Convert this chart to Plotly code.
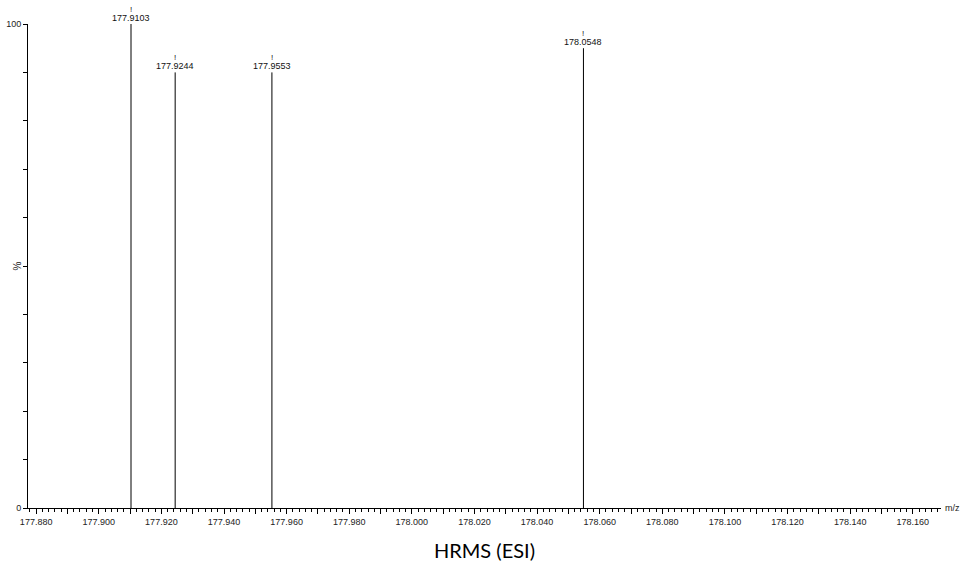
import plotly.graph_objects as go

mz = [177.9103, 177.9244, 177.9553, 178.0548]
intensity = [100, 90, 90, 95]
peak_labels = ["177.9103", "177.9244", "177.9553", "178.0548"]

x_major = [round(177.88 + 0.01 * i, 3) for i in range(30)]
x_text = [f"{v:.3f}" if i % 2 == 0 else "" for i, v in enumerate(x_major)]
y_ticks = list(range(0, 101, 10))
y_text = ["0"] + [""] * 9 + ["100"]

xs, ys = [], []
for m, h in zip(mz, intensity):
    xs += [m, m, None]
    ys += [0, h, None]

fig = go.Figure()
fig.add_trace(go.Scatter(x=xs, y=ys, mode="lines",
                         line=dict(color="black", width=1), hoverinfo="skip",
                         showlegend=False))

font = "Liberation Sans, Arial, sans-serif"
for m, h, lab in zip(mz, intensity, peak_labels):
    fig.add_annotation(x=m, y=h, text=lab, showarrow=False, yanchor="bottom",
                       yshift=-1, font=dict(family=font, size=9, color="#111"))
    fig.add_annotation(x=m, y=h, text="!", showarrow=False, yanchor="bottom",
                       yshift=8, font=dict(family=font, size=8, color="#111"))

fig.add_annotation(x=0, y=50, xref="paper", yref="y", text="%", showarrow=False,
                   textangle=-90, xanchor="right", xshift=-4,
                   font=dict(family=font, size=10, color="#222"))
fig.add_annotation(x=1, y=0, xref="paper", yref="y", text="m/z", showarrow=False,
                   xanchor="left", xshift=2,
                   font=dict(family=font, size=9, color="#222"))
fig.add_annotation(x=0.5, y=0, xref="paper", yref="paper", text="HRMS (ESI)",
                   showarrow=False, yanchor="top", yshift=-28,
                   font=dict(family="Lato, Carlito, sans-serif", size=20, color="black"))

fig.update_layout(
    width=964, height=574,
    margin=dict(l=28, r=23, t=24, b=66),
    plot_bgcolor="white", paper_bgcolor="white",
    xaxis=dict(range=[177.8774, 178.169], showgrid=False, zeroline=False,
               automargin=False,
               showline=True, linecolor="black", linewidth=1,
               tickmode="array", tickvals=x_major, ticktext=x_text,
               ticks="outside", ticklen=5, tickcolor="black", tickwidth=1,
               tickfont=dict(family=font, size=9, color="#222"),
               minor=dict(dtick=0.002, tick0=177.88, ticks="outside", ticklen=3,
                          tickcolor="black", tickwidth=1, showgrid=False)),
    yaxis=dict(range=[0, 100], showgrid=False, zeroline=False,
               automargin=False,
               showline=True, linecolor="black", linewidth=1,
               tickmode="array", tickvals=y_ticks, ticktext=y_text,
               ticks="outside", ticklen=4, tickcolor="black", tickwidth=1,
               tickfont=dict(family=font, size=9, color="#222")),
)

fig.write_html("out.html")
